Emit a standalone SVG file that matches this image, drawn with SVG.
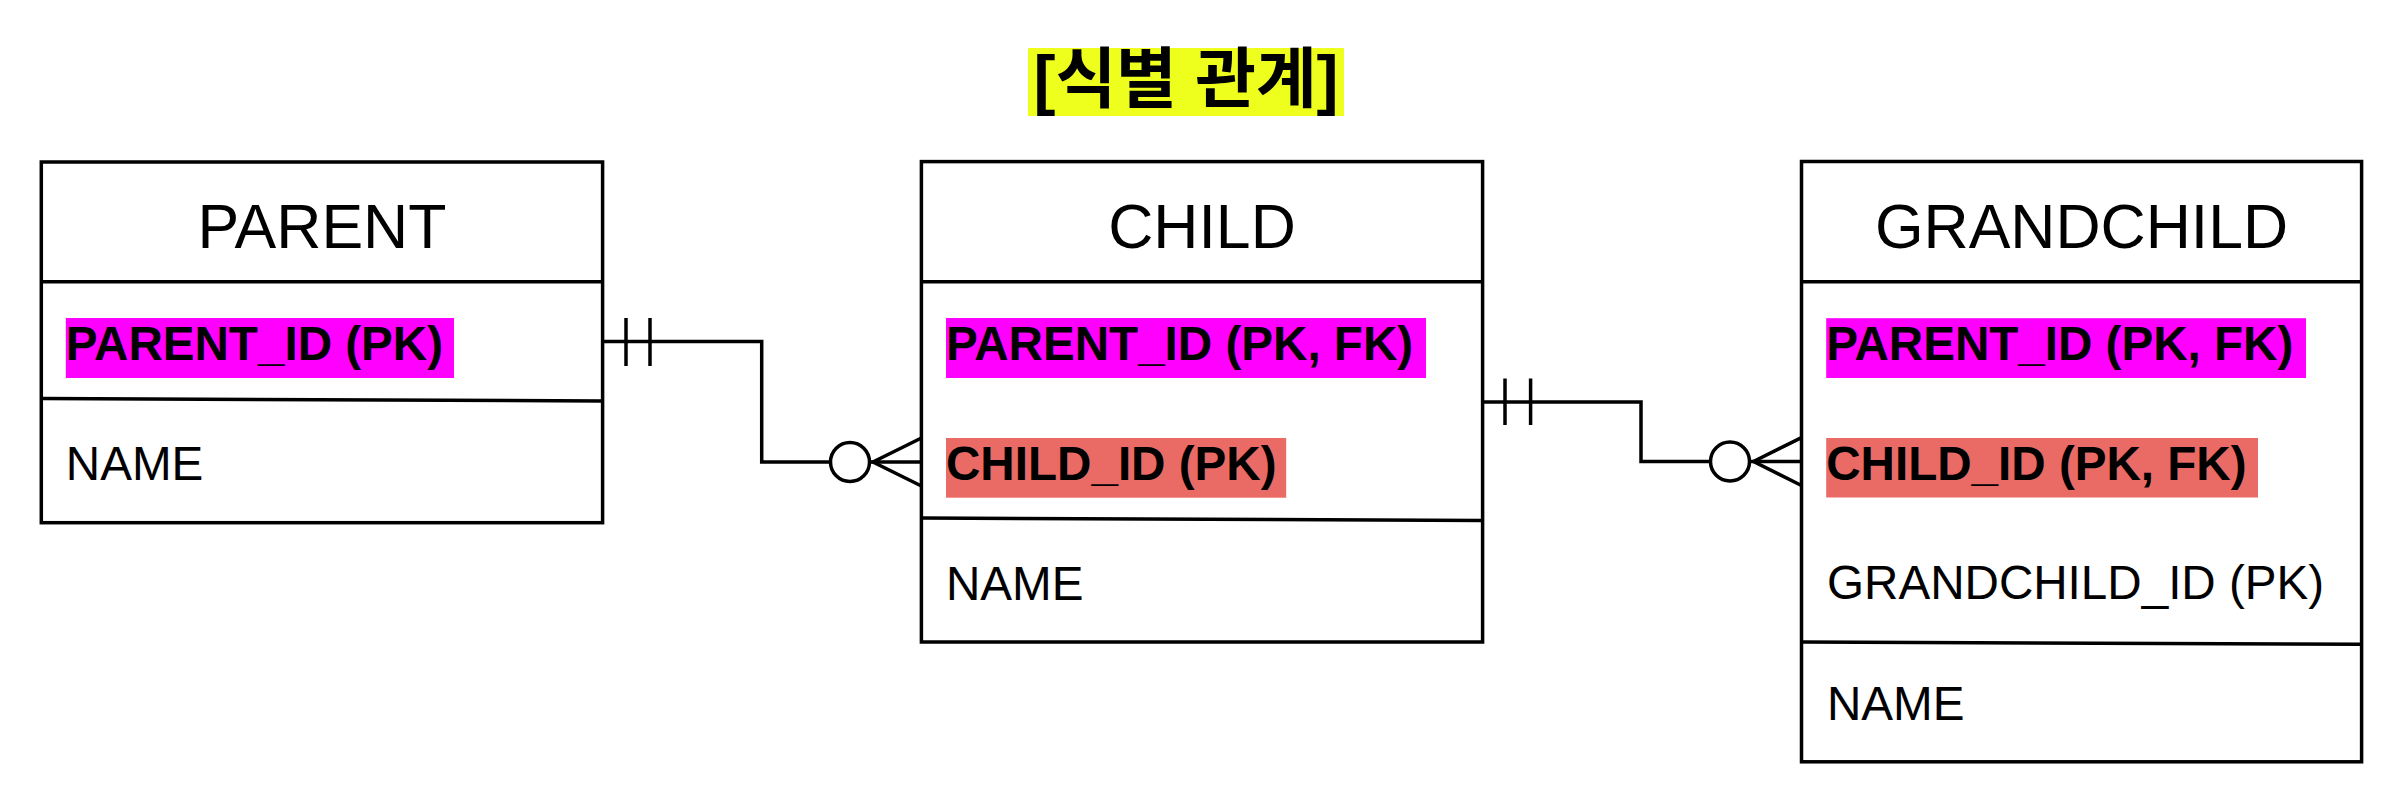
<svg xmlns="http://www.w3.org/2000/svg" width="2408" height="804" viewBox="0 0 2408 804">
<style>
.box{fill:#fff;stroke:#000;stroke-width:3.5}
.ln{fill:none;stroke:#000;stroke-width:3.5}
.title{font-family:"Liberation Sans",Arial,sans-serif;font-size:62.5px;fill:#000;text-anchor:middle}
.attr{font-family:"Liberation Sans",Arial,sans-serif;font-size:47.6px;fill:#000}
.b{font-weight:bold}
.mag{fill:#ff00ff}
.sal{fill:#ea6b66}
</style>
<rect width="2408" height="804" fill="#fff"/>
<g id="title">
<rect x="1028" y="48" width="316" height="68" fill="#eeff1e"/>
<text x="1186" y="102" font-family="'Liberation Sans','Noto Sans CJK KR',sans-serif" font-size="66" font-weight="bold" text-anchor="middle" fill="#000">[식별 관계]</text>
</g>
<g id="parent">
<rect class="box" x="41.3" y="162" width="561.3" height="360.7"/>
<line class="ln" x1="41.3" y1="281.7" x2="602.6" y2="281.7"/>
<line class="ln" x1="41.3" y1="398.5" x2="602.6" y2="401"/>
<text class="title" x="322" y="248">PARENT</text>
<rect class="mag" x="65.8" y="318" width="388.2" height="60"/>
<text class="attr b" x="65.8" y="360">PARENT_ID (PK)</text>
<text class="attr" x="65.8" y="479.6">NAME</text>
</g>
<g id="child">
<rect class="box" x="921.4" y="161.6" width="561.2" height="480.4"/>
<line class="ln" x1="921.4" y1="281.7" x2="1482.6" y2="281.7"/>
<line class="ln" x1="921.4" y1="518" x2="1482.6" y2="520.5"/>
<text class="title" x="1202" y="248">CHILD</text>
<rect class="mag" x="946" y="318" width="480" height="60"/>
<text class="attr b" x="946" y="360">PARENT_ID (PK, FK)</text>
<rect class="sal" x="946" y="438" width="340.2" height="59.7"/>
<text class="attr b" x="946" y="480">CHILD_ID (PK)</text>
<text class="attr" x="946" y="599.5">NAME</text>
</g>
<g id="grandchild">
<rect class="box" x="1801.5" y="161.5" width="560.1" height="600.3"/>
<line class="ln" x1="1801.5" y1="281.8" x2="2361.6" y2="281.8"/>
<line class="ln" x1="1801.5" y1="642" x2="2361.6" y2="644.3"/>
<text class="title" x="2081.5" y="248.2">GRANDCHILD</text>
<rect class="mag" x="1826.2" y="318.2" width="479.8" height="59.8"/>
<text class="attr b" x="1826.2" y="360">PARENT_ID (PK, FK)</text>
<rect class="sal" x="1826.2" y="438" width="431.8" height="59.5"/>
<text class="attr b" x="1826.2" y="480">CHILD_ID (PK, FK)</text>
<text class="attr" x="1827" y="598.8">GRANDCHILD_ID (PK)</text>
<text class="attr" x="1827" y="719.6">NAME</text>
</g>
<g id="connectors">
<g id="parent-child">
<path class="ln" d="M602.6,341.5 H761.7 V462 H921.4"/>
<line class="ln" x1="626" y1="318" x2="626" y2="366"/>
<line class="ln" x1="650" y1="318" x2="650" y2="366"/>
<circle class="ln" cx="850" cy="462" r="19.5" style="fill:#fff"/>
<path class="ln" d="M921.4,438 L873,462 L921.4,486"/>
</g>
<g id="child-grandchild">
<path class="ln" d="M1482.6,402 H1641 V461.5 H1801.5"/>
<line class="ln" x1="1505" y1="378.5" x2="1505" y2="425"/>
<line class="ln" x1="1530.6" y1="378.5" x2="1530.6" y2="425"/>
<circle class="ln" cx="1730" cy="461.5" r="19.5" style="fill:#fff"/>
<path class="ln" d="M1801.5,437.6 L1753.6,461.5 L1801.5,485.5"/>
</g>
</g>
</svg>
